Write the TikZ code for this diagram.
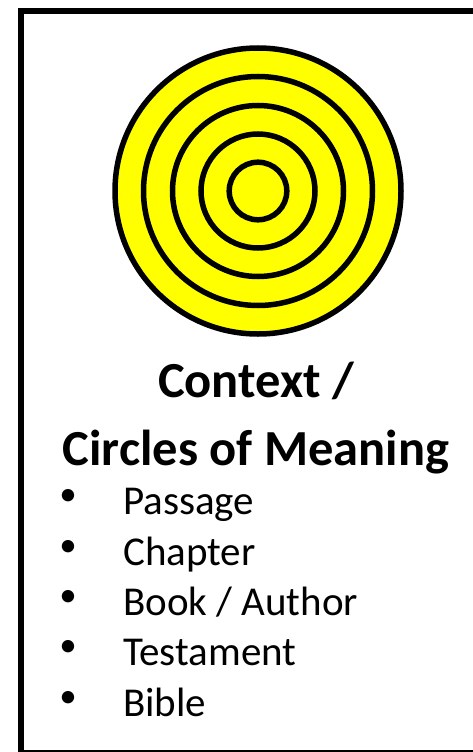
\documentclass[tikz,border=0pt]{standalone}
\usepackage{fontspec}
\setmainfont{Carlito}
\usepackage{tikz}
\definecolor{ringyellow}{HTML}{FFFF00}
\tikzset{
  frame/.style={draw=black, line width=6pt},
  ring/.style={draw=black, fill=ringyellow, line width=5.5pt},
  heading/.style={font=\fontsize{50.5}{60}\selectfont\bfseries, anchor=base, inner sep=0pt},
  item/.style={font=\fontsize{41}{49}\selectfont, anchor=base west, inner sep=0pt},
  dot/.style={font=\fontsize{35}{42}\selectfont, inner sep=0pt}
}

\begin{document}
\begin{tikzpicture}[x=1pt,y=-1pt]
  \useasboundingbox (0,0) rectangle (473,752);
  \clip (0,0) rectangle (473,752);
  \draw[frame] (21,11) rectangle (480,753);

  % target rings, outermost first
  \foreach \r in {143,114.5,85.5,57,28.8}
    \draw[ring] (258,191) circle (\r);

  \node[heading] (title) at (256,397) {Context /};
  \node[heading] (subtitle) at (256,465) {Circles of Meaning};

  \foreach \y/\t [count=\i] in {514/Passage,565/Chapter,615/{Book / Author},665/Testament,716/Bible}{
    \node[dot] (bullet\i) at (68,\y-17) {\textbullet};
    \node[item] (item\i) at (123,\y) {\t};
  }
\end{tikzpicture}
\end{document}
